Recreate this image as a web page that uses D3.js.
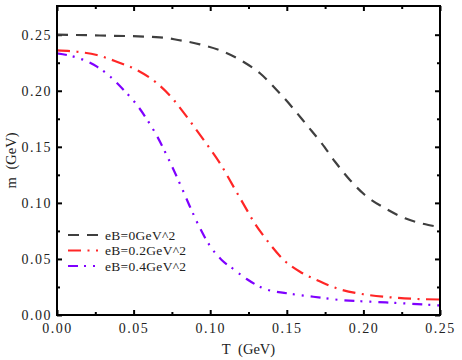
<!DOCTYPE html>
<html lang="en">
<head>
    <meta charset="UTF-8">
    <script src="https://cdnjs.cloudflare.com/ajax/libs/d3/7.8.5/d3.min.js"></script>
    <style>
        body { margin: 0; background: #fff; }
        text { font-family: "Liberation Serif", "DejaVu Serif", serif; fill: #222; }
    </style>
</head>
<body>
    <svg id="chart" width="462" height="360"></svg>
    <script>
        // temperature T (GeV) and mass m (GeV)
        const T0 = [0, 0.028, 0.0672, 0.079, 0.0933, 0.1075, 0.1216, 0.1325, 0.1434, 0.1532,
            0.163, 0.1728, 0.1815, 0.1912, 0.201, 0.2141, 0.2272, 0.2424, 0.25];
        const m0 = [0.250, 0.2493, 0.2477, 0.2453, 0.2414, 0.2355, 0.2259, 0.2156, 0.2007, 0.1858,
            0.1695, 0.1531, 0.1367, 0.1204, 0.1070, 0.0952, 0.0862, 0.0803, 0.0785];

        const T2 = [0, 0.013, 0.026, 0.039, 0.0522, 0.0653, 0.0762, 0.0803, 0.089, 0.0977, 0.1064,
            0.1151, 0.1238, 0.1281, 0.1369, 0.1477, 0.1586, 0.1695, 0.1826, 0.2, 0.2174, 0.2348, 0.25];
        const m2 = [0.236, 0.2348, 0.2319, 0.2259, 0.2185, 0.2067, 0.1918, 0.1848, 0.1688, 0.1525, 0.1353,
            0.1147, 0.0940, 0.0838, 0.0669, 0.0495, 0.0386, 0.0312, 0.0238, 0.0185, 0.0158, 0.0143, 0.0138];

        const T4 = [0, 0.0065, 0.0174, 0.0261, 0.0348, 0.0435, 0.0522, 0.0587, 0.0653, 0.0737, 0.0814,
            0.0868, 0.0933, 0.0999, 0.1075, 0.1151, 0.1238, 0.1347, 0.1499, 0.1673, 0.1847, 0.2043, 0.226, 0.25];
        const m4 = [0.2334, 0.2319, 0.2274, 0.2215, 0.2125, 0.2007, 0.1873, 0.1745, 0.1595, 0.1365, 0.1135,
            0.0966, 0.0775, 0.0615, 0.0491, 0.041, 0.0321, 0.0238, 0.0194, 0.0163, 0.0134, 0.0119, 0.0104, 0.0085];

        const seriesNames = ['eB=0GeV^2', 'eB=0.2GeV^2', 'eB=0.4GeV^2'];
        const xTicks = [0, 0.05, 0.10, 0.15, 0.20, 0.25];
        const yTicks = [0, 0.05, 0.10, 0.15, 0.20, 0.25];

        const series = [
            { name: seriesNames[0], T: T0, m: m0, color: '#3f3f3f', dash: '11,8' },
            { name: seriesNames[1], T: T2, m: m2, color: '#ff2626', dash: '13,6.5,2,6.5' },
            { name: seriesNames[2], T: T4, m: m4, color: '#7f00ff', dash: '10,6,2,7,2,7' }
        ];

        const pL = 57, pR = 440, pT = 6, pB = 315;
        const svg = d3.select('#chart');

        const x = d3.scaleLinear().domain([0, 0.25]).range([pL, pR]);
        const y = d3.scaleLinear().domain([0, 0.2756]).range([pB, pT]);

        const minorX = d3.range(0.025, 0.25, 0.05);
        const minorY = d3.range(0.025, 0.27, 0.05);
        const fmt = d3.format('.2f');

        function styleAxis(g) {
            g.select('.domain').remove();
            g.selectAll('.tick line').attr('stroke', '#000').attr('stroke-width', 2);
            g.selectAll('.tick text')
                .style('font-size', '14px')
                .style('letter-spacing', '1.5px')
                .attr('fill', '#222');
        }

        // bottom
        svg.append('g').attr('transform', `translate(0,${pB})`)
            .call(d3.axisBottom(x).tickValues(xTicks).tickFormat(fmt).tickSizeInner(-5).tickPadding(8))
            .call(styleAxis);
        svg.append('g').attr('transform', `translate(0,${pB})`)
            .call(d3.axisBottom(x).tickValues(minorX).tickFormat('').tickSizeInner(-3))
            .call(styleAxis);
        // top
        svg.append('g').attr('transform', `translate(0,${pT})`)
            .call(d3.axisTop(x).tickValues(xTicks).tickFormat('').tickSizeInner(-5))
            .call(styleAxis);
        svg.append('g').attr('transform', `translate(0,${pT})`)
            .call(d3.axisTop(x).tickValues(minorX).tickFormat('').tickSizeInner(-3))
            .call(styleAxis);
        // left
        svg.append('g').attr('transform', `translate(${pL},0)`)
            .call(d3.axisLeft(y).tickValues(yTicks).tickFormat(fmt).tickSizeInner(-5).tickPadding(5))
            .call(styleAxis);
        svg.append('g').attr('transform', `translate(${pL},0)`)
            .call(d3.axisLeft(y).tickValues(minorY).tickFormat('').tickSizeInner(-3))
            .call(styleAxis);
        // right
        svg.append('g').attr('transform', `translate(${pR},0)`)
            .call(d3.axisRight(y).tickValues(yTicks).tickFormat('').tickSizeInner(-5))
            .call(styleAxis);
        svg.append('g').attr('transform', `translate(${pR},0)`)
            .call(d3.axisRight(y).tickValues(minorY).tickFormat('').tickSizeInner(-3))
            .call(styleAxis);

        // curves
        const line = d3.line()
            .x(d => x(d[0]))
            .y(d => y(d[1]))
            .curve(d3.curveMonotoneX);

        svg.append('clipPath').attr('id', 'plotclip')
            .append('rect').attr('x', pL).attr('y', pT)
            .attr('width', pR - pL).attr('height', pB - pT);

        svg.append('g').attr('clip-path', 'url(#plotclip)')
            .selectAll('path')
            .data(series)
            .enter()
            .append('path')
            .attr('d', s => line(s.T.map((t, i) => [t, s.m[i]])))
            .attr('fill', 'none')
            .attr('stroke', s => s.color)
            .attr('stroke-width', 2.2)
            .attr('stroke-dasharray', s => s.dash);

        // frame
        svg.append('rect')
            .attr('x', pL).attr('y', pT)
            .attr('width', pR - pL).attr('height', pB - pT)
            .attr('fill', 'none').attr('stroke', '#000').attr('stroke-width', 2);

        // legend
        const legend = svg.append('g')
            .selectAll('g')
            .data(series)
            .enter()
            .append('g')
            .attr('transform', (d, i) => `translate(68, ${239.5 + i * 15.5})`);

        legend.append('line')
            .attr('x1', 0).attr('x2', 30)
            .attr('y1', -4.5).attr('y2', -4.5)
            .attr('stroke', d => d.color)
            .attr('stroke-width', 2.2)
            .attr('stroke-dasharray', d => d.dash);
        legend.append('text')
            .attr('x', 37)
            .style('font-size', '13.5px')
            .style('letter-spacing', '0.3px')
            .text(d => d.name);

        // axis titles
        svg.append('text')
            .attr('x', (pL + pR) / 2).attr('y', 354)
            .attr('text-anchor', 'middle')
            .style('font-size', '14.5px')
            .style('word-spacing', '4px')
            .text('T (GeV)');
        svg.append('text')
            .attr('transform', `translate(16, ${(pT + pB) / 2}) rotate(-90)`)
            .attr('text-anchor', 'middle')
            .style('font-size', '14.5px')
            .style('word-spacing', '4px')
            .text('m (GeV)');
    </script>
</body>
</html>
